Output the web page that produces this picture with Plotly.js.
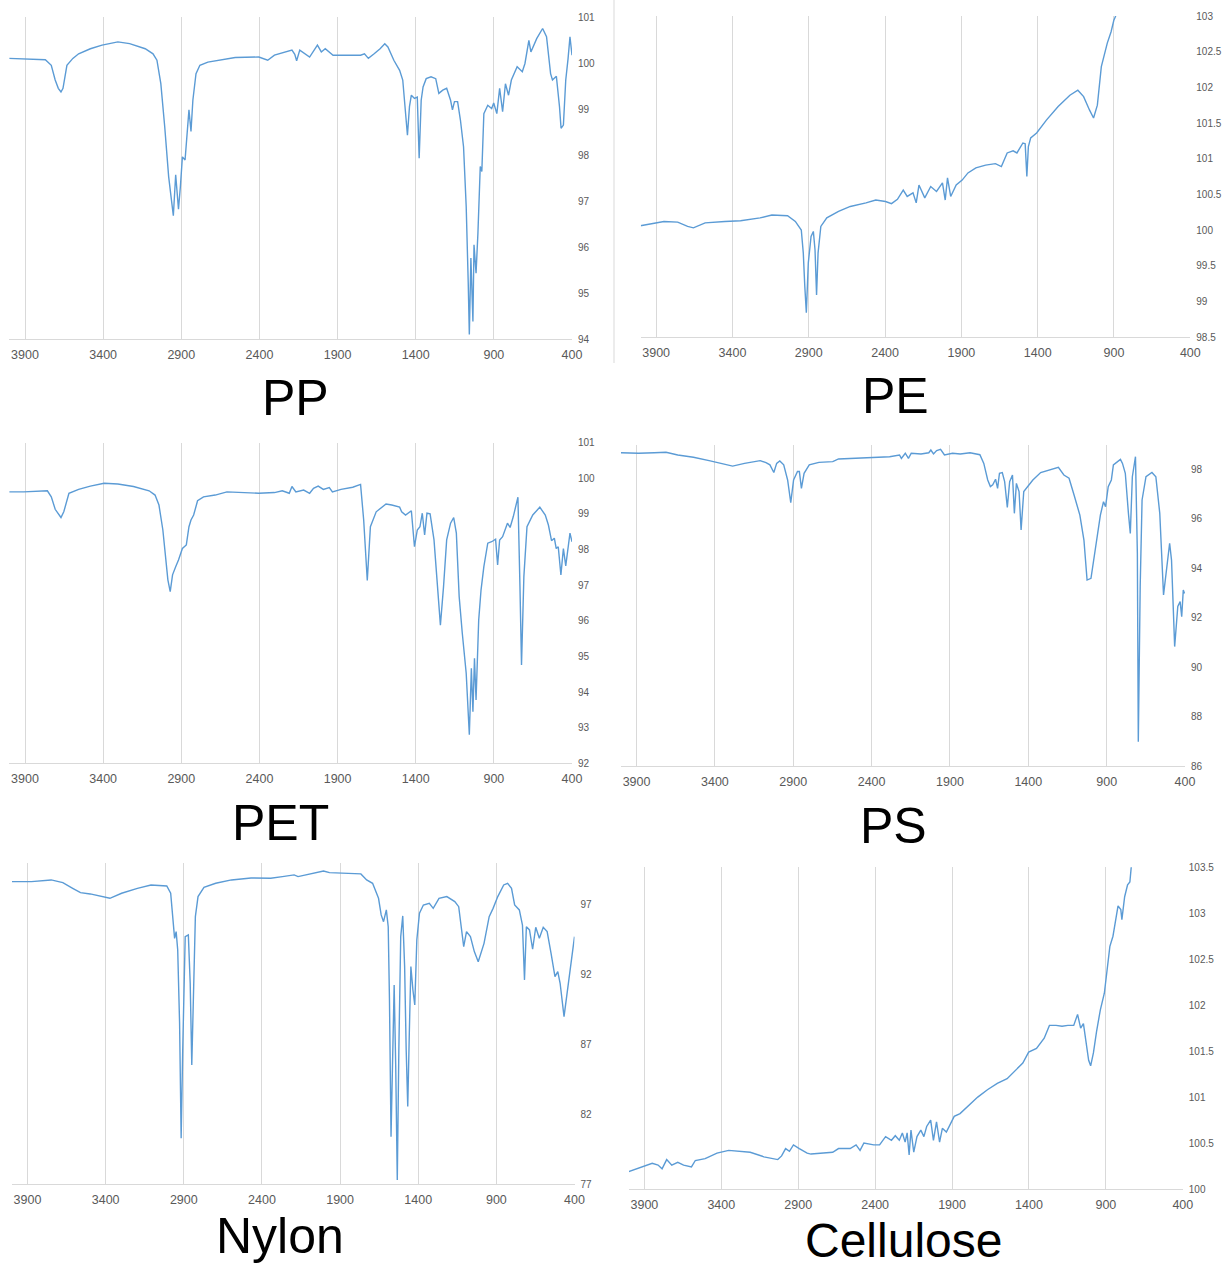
<!DOCTYPE html>
<html><head><meta charset="utf-8">
<script src="https://cdn.plot.ly/plotly-3.0.1.min.js"></script>
<style>html,body{margin:0;padding:0;background:#fff;} #chart{width:1231px;height:1268px;}</style>
</head><body><div id="chart"></div>
<script>
const wavenumberTicks = [3900, 3400, 2900, 2400, 1900, 1400, 900, 400];
const panelNames = ['PP', 'PE', 'PET', 'PS', 'Nylon', 'Cellulose'];

const ppWavenumber = [4003,3900,3770,3732,3707,3687,3670,3657,3632,3594,3557,3482,3407,3306,3231,3131,3081,3056,3031,3006,2993,2981,2963,2951,2936,2918,2906,2893,2876,2861,2851,2838,2826,2806,2781,2730,2655,2555,2404,2347,2304,2192,2174,2162,2142,2079,2029,2004,1979,1929,1853,1753,1728,1703,1666,1628,1598,1578,1540,1503,1483,1466,1453,1440,1428,1408,1390,1378,1365,1353,1333,1302,1272,1252,1227,1202,1177,1165,1152,1132,1114,1094,1077,1064,1057,1047,1034,1027,1014,1002,987,977,964,939,914,901,881,863,844,826,806,788,751,718,701,676,663,626,588,563,537,525,500,480,470,455,440,425,413,400];
const ppTransmittance = [100.10,100.09,100.07,99.95,99.63,99.45,99.37,99.45,99.95,100.10,100.20,100.31,100.39,100.46,100.42,100.31,100.20,100.06,99.55,98.61,98.10,97.53,97.02,96.68,97.57,96.82,97.31,97.96,97.89,98.47,98.98,98.51,99.19,99.77,99.95,100.02,100.06,100.12,100.13,100.06,100.17,100.28,100.19,100.05,100.28,100.13,100.39,100.24,100.31,100.17,100.17,100.17,100.20,100.10,100.20,100.31,100.42,100.35,100.06,99.84,99.63,98.98,98.43,99.05,99.30,99.23,99.26,97.93,99.19,99.48,99.66,99.70,99.66,99.34,99.41,99.45,99.19,98.98,99.16,99.16,98.76,98.18,96.88,95.22,94.10,95.76,94.38,96.05,95.43,96.30,97.75,97.64,98.90,99.08,99.01,99.13,98.90,99.45,98.94,99.55,99.30,99.63,99.92,99.81,99.99,100.49,100.24,100.53,100.75,100.57,99.77,99.63,99.71,99.05,98.58,98.65,99.63,100.10,100.57,100.17];

const peWavenumber = [4003,3913,3849,3759,3694,3656,3579,3450,3347,3219,3142,3039,2988,2949,2936,2926,2916,2903,2885,2870,2859,2849,2839,2821,2782,2705,2628,2525,2461,2397,2358,2319,2281,2255,2217,2196,2178,2140,2101,2063,2024,2006,1991,1970,1934,1895,1857,1805,1741,1677,1638,1600,1561,1536,1497,1482,1471,1461,1446,1407,1343,1266,1189,1137,1099,1060,1034,1009,983,944,919,901,885,875];
const peTransmittance = [100.06,100.09,100.12,100.11,100.05,100.03,100.10,100.12,100.13,100.17,100.21,100.20,100.12,100.00,99.68,99.21,98.84,99.54,99.91,99.98,99.72,99.09,99.68,100.05,100.17,100.26,100.33,100.38,100.42,100.40,100.37,100.43,100.56,100.47,100.52,100.38,100.63,100.45,100.61,100.54,100.66,100.42,100.73,100.47,100.63,100.70,100.80,100.87,100.91,100.93,100.89,101.08,101.11,101.08,101.22,101.21,100.75,101.17,101.29,101.36,101.54,101.73,101.89,101.96,101.87,101.68,101.57,101.75,102.29,102.62,102.78,102.94,103.02,103.2];

const petWavenumber = [4003,3908,3757,3732,3707,3687,3670,3652,3619,3557,3482,3394,3306,3206,3106,3068,3043,3018,3006,2986,2971,2956,2936,2918,2893,2868,2851,2838,2821,2796,2758,2683,2608,2508,2404,2304,2254,2209,2192,2167,2117,2079,2054,2024,1991,1953,1933,1878,1803,1753,1733,1710,1690,1653,1590,1553,1503,1490,1465,1428,1408,1390,1373,1358,1343,1328,1308,1283,1265,1242,1222,1202,1177,1157,1140,1122,1102,1077,1057,1044,1034,1024,1014,997,982,964,939,914,889,876,863,844,813,796,776,746,733,723,708,688,651,606,571,551,531,513,501,488,471,455,440,425,413,400];
const petTransmittance = [99.62,99.62,99.65,99.48,99.13,99.02,98.90,99.06,99.58,99.69,99.78,99.86,99.84,99.77,99.65,99.53,99.25,98.55,97.99,97.15,96.82,97.29,97.52,97.71,98.03,98.13,98.64,98.83,98.97,99.37,99.48,99.53,99.62,99.60,99.58,99.60,99.65,99.58,99.77,99.62,99.67,99.58,99.72,99.78,99.69,99.74,99.62,99.69,99.75,99.83,98.83,97.13,98.64,99.06,99.28,99.25,99.19,99.06,98.97,99.09,98.08,98.55,98.64,99.02,98.41,99.02,99.00,98.27,97.24,95.88,96.96,98.27,98.74,98.90,98.46,96.68,95.65,94.53,92.80,94.67,93.45,94.95,93.78,96.02,96.87,97.52,98.18,98.22,98.29,97.57,98.27,98.36,98.74,98.62,98.92,99.47,96.96,94.76,97.24,98.64,98.97,99.19,98.97,98.69,98.25,98.32,98.03,98.08,97.29,98.03,97.54,98.13,98.46,98.22];

const psWavenumber = [4000,3887,3787,3712,3637,3537,3437,3362,3287,3211,3111,3074,3049,3024,3006,2986,2961,2936,2916,2898,2873,2861,2848,2831,2798,2736,2648,2611,2535,2410,2285,2222,2210,2185,2165,2147,2085,2035,2022,2005,1985,1960,1935,1884,1834,1772,1709,1684,1659,1642,1627,1609,1596,1584,1566,1551,1534,1519,1501,1489,1476,1459,1446,1429,1396,1371,1321,1259,1208,1173,1140,1108,1071,1045,1025,1000,970,940,920,907,890,870,857,832,812,799,781,761,749,736,716,704,698,686,674,649,611,586,561,537,516,498,486,466,446,431,421,411,403];
const psTransmittance = [98.67,98.65,98.67,98.69,98.58,98.49,98.35,98.24,98.13,98.24,98.35,98.27,98.18,97.87,98.24,98.34,98.18,97.57,96.65,97.57,97.91,97.91,97.23,97.84,98.18,98.28,98.31,98.42,98.44,98.49,98.51,98.58,98.44,98.65,98.44,98.65,98.62,98.67,98.78,98.62,98.76,98.81,98.58,98.65,98.62,98.67,98.59,98.24,97.57,97.30,97.37,97.60,97.23,97.84,97.87,97.50,96.46,97.50,97.77,96.22,97.43,97.10,95.55,97.10,97.37,97.57,97.87,97.97,98.08,97.77,97.64,96.96,96.15,95.14,93.52,93.59,94.87,96.15,96.69,96.49,97.30,97.57,98.18,98.31,98.40,98.24,97.84,96.22,95.41,97.70,98.51,94.60,86.98,93.25,96.76,97.70,97.87,97.70,96.22,92.92,94.20,95.01,94.33,90.83,92.45,92.65,92.04,93.12,92.98];

const nylonWavenumber = [4000,3875,3749,3674,3611,3561,3499,3423,3373,3298,3197,3110,3009,2984,2972,2959,2949,2939,2927,2917,2907,2891,2871,2859,2849,2839,2826,2809,2771,2696,2595,2470,2344,2269,2194,2169,2068,2006,1968,1868,1767,1730,1692,1654,1637,1622,1604,1592,1584,1574,1562,1554,1544,1534,1524,1512,1499,1487,1477,1467,1457,1447,1434,1422,1409,1392,1367,1329,1304,1267,1217,1166,1141,1121,1109,1091,1066,1041,1016,979,946,921,891,853,828,803,783,753,733,720,708,688,668,648,625,600,575,550,525,507,492,467,450,437,417,400];
const nylonTransmittance = [98.62,98.62,98.74,98.55,98.14,97.83,97.74,97.55,97.43,97.79,98.14,98.38,98.31,97.79,96.12,94.57,95.05,93.74,88.50,80.29,86.60,94.69,94.81,91.36,85.52,90.88,96.12,97.55,98.21,98.50,98.74,98.88,98.86,98.98,99.10,98.98,99.21,99.38,99.26,99.21,99.17,98.74,98.50,97.43,96.24,95.76,96.60,95.40,90.17,80.40,87.55,91.24,85.40,77.31,86.60,94.69,96.17,92.55,86.60,82.55,87.79,92.55,90.88,89.81,94.45,96.36,96.95,97.07,96.71,97.43,97.55,97.19,96.83,94.93,93.98,95.05,94.69,93.62,92.90,94.21,96.12,96.71,97.55,98.38,98.50,98.14,96.95,96.60,95.52,91.60,95.40,95.17,93.79,95.36,94.57,95.36,95.05,93.50,91.83,92.19,91.36,88.98,90.40,91.48,93.50,94.69];

const celluloseWavenumber = [4002,3951,3900,3849,3811,3785,3755,3722,3683,3645,3594,3569,3505,3428,3352,3275,3212,3123,3033,3008,2982,2957,2931,2893,2842,2817,2740,2676,2638,2562,2524,2498,2473,2409,2371,2332,2294,2269,2243,2223,2205,2192,2179,2167,2149,2128,2103,2083,2065,2039,2021,2001,1981,1963,1937,1912,1886,1848,1797,1733,1670,1606,1542,1491,1440,1402,1351,1301,1267,1224,1185,1147,1109,1084,1064,1046,1032,1012,999,981,961,936,910,892,874,854,834,821,803,796,778,759,744,732];
const celluloseTransmittance = [100.19,100.22,100.25,100.28,100.26,100.22,100.32,100.26,100.29,100.26,100.24,100.31,100.33,100.39,100.42,100.41,100.40,100.35,100.32,100.36,100.44,100.41,100.48,100.44,100.39,100.38,100.39,100.40,100.44,100.44,100.48,100.42,100.50,100.48,100.48,100.57,100.53,100.58,100.53,100.61,100.51,100.61,100.37,100.64,100.40,100.57,100.64,100.57,100.68,100.75,100.53,100.73,100.51,100.66,100.62,100.71,100.79,100.82,100.90,101.00,101.08,101.15,101.20,101.28,101.37,101.49,101.53,101.64,101.78,101.78,101.77,101.78,101.78,101.90,101.75,101.80,101.62,101.40,101.34,101.48,101.71,101.95,102.13,102.38,102.64,102.75,102.96,103.08,103.04,102.93,103.18,103.31,103.34,103.56];

const ppTicks = [94, 95, 96, 97, 98, 99, 100, 101];
const peTicks = [98.5, 99, 99.5, 100, 100.5, 101, 101.5, 102, 102.5, 103];
const petTicks = [92, 93, 94, 95, 96, 97, 98, 99, 100, 101];
const psTicks = [86, 88, 90, 92, 94, 96, 98];
const nylonTicks = [77, 82, 87, 92, 97];
const celluloseTicks = [100, 100.5, 101, 101.5, 102, 102.5, 103, 103.5];

const W = 1231, H = 1268;
const series = [
  {x: ppWavenumber, y: ppTransmittance, ticks: ppTicks},
  {x: peWavenumber, y: peTransmittance, ticks: peTicks},
  {x: petWavenumber, y: petTransmittance, ticks: petTicks},
  {x: psWavenumber, y: psTransmittance, ticks: psTicks},
  {x: nylonWavenumber, y: nylonTransmittance, ticks: nylonTicks},
  {x: celluloseWavenumber, y: celluloseTransmittance, ticks: celluloseTicks}
];
// layout geometry in pixels: [left(4000), right(400), top, bottom], y range, title center
const geom = [
  {l: 9.4, r: 572, t: 17, b: 339, yr: [94, 101], tx: 295, ty: 398.5, fs: 50},
  {l: 640.9, r: 1190.3, t: 16, b: 337, yr: [98.5, 103], tx: 895, ty: 396, fs: 50},
  {l: 9.4, r: 572, t: 442.7, b: 763.3, yr: [92, 101], tx: 280, ty: 822.5, fs: 50},
  {l: 620.9, r: 1185, t: 444.6, b: 766, yr: [86, 99], tx: 893, ty: 826, fs: 50},
  {l: 11.9, r: 574.5, t: 863, b: 1184.3, yr: [77, 99.95], tx: 280, ty: 1236, fs: 50},
  {l: 629, r: 1182.8, t: 867.3, b: 1189, yr: [100, 103.5], tx: 903, ty: 1240, fs: 48}
];

const traces = [];
const layout = {
  width: W, height: H, margin: {l: 0, r: 0, t: 0, b: 0},
  paper_bgcolor: '#ffffff', plot_bgcolor: '#ffffff', showlegend: false,
  font: {family: 'Liberation Sans, Arial, sans-serif', color: '#595959'},
  annotations: [],
  shapes: [{type: 'line', xref: 'paper', yref: 'paper', x0: 614 / W, x1: 614 / W, y0: 1 - 363 / H, y1: 1, line: {color: '#d9d9d9', width: 1}}]
};

series.forEach((s, i) => {
  const g = geom[i];
  const n = i + 1;
  const xa = n === 1 ? 'x' : 'x' + n;
  const ya = n === 1 ? 'y' : 'y' + n;
  traces.push({x: s.x, y: s.y, type: 'scatter', mode: 'lines', xaxis: xa, yaxis: ya,
    line: {color: '#5b9bd5', width: 1.4}, hoverinfo: 'x+y'});
  layout['xaxis' + (n === 1 ? '' : n)] = {
    domain: [g.l / W, g.r / W], anchor: ya, range: [4000, 400], autorange: false,
    tickmode: 'array', tickvals: wavenumberTicks, ticks: '', ticklabelstandoff: 4,
    showgrid: true, gridcolor: '#d9d9d9', gridwidth: 1, zeroline: false,
    showline: true, linecolor: '#d9d9d9', linewidth: 1,
    tickfont: {size: 12.5, color: '#595959'}
  };
  layout['yaxis' + (n === 1 ? '' : n)] = {
    domain: [1 - g.b / H, 1 - g.t / H], anchor: xa, side: 'right', range: g.yr, autorange: false,
    tickmode: 'array', tickvals: s.ticks, ticks: '', ticklabelstandoff: 5,
    showgrid: false, zeroline: false, showline: false,
    tickfont: {size: 10, color: '#595959'}
  };
  layout.annotations.push({text: panelNames[i], xref: 'paper', yref: 'paper',
    x: g.tx / W, y: 1 - g.ty / H, xanchor: 'center', yanchor: 'middle', showarrow: false,
    font: {size: g.fs, color: '#000000', family: 'Liberation Sans, Arial, sans-serif'}});
});

Plotly.newPlot('chart', traces, layout, {displayModeBar: false, staticPlot: true});
</script></body></html>
